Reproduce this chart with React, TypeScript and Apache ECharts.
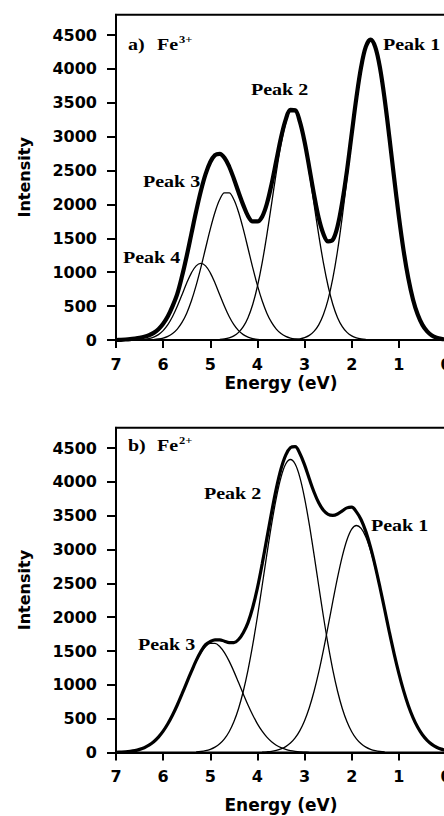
import React, { useEffect, useRef } from "react";
import * as echarts from "echarts";

// Energy grid step (eV) shared by every spectrum below; each list starts at its own energy.
const ENERGY_STEP = 0.1;

const energyTicks = [0, 1, 2, 3, 4, 5, 6, 7];
const intensityTicks = [0, 500, 1000, 1500, 2000, 2500, 3000, 3500, 4000, 4500];

// (a) Fe3+ : measured envelope and four fitted components
const envelopeAStart = 0.0;
const envelopeA = [
  8, 17, 35, 68, 127, 223, 375, 599, 912, 1321,
  1821, 2390, 2984, 3547, 4014, 4322, 4433, 4329, 4029, 3578,
  3044, 2502, 2040, 1680, 1480, 1455, 1565, 1800, 2150, 2545,
  2925, 3222, 3391, 3397, 3252, 2985, 2645, 2300, 2010, 1820,
  1750, 1750, 1830, 1990, 2180, 2380, 2560, 2690, 2747, 2729,
  2627, 2448, 2199, 1899, 1570, 1240, 940, 680, 500, 350,
  240, 160, 105, 70, 48, 33, 22, 13, 7, 3,
  0,
];
const peak1AStart = 0.0;
const peak1A = [
  8, 17, 35, 68, 127, 223, 375, 599, 912, 1321, 1821, 2390, 2984, 3547, 4014, 4322,
  4430, 4322, 4014, 3547, 2984, 2390, 1821, 1321, 912, 599, 375, 223, 127, 68, 35, 17, 8,
];
const peak2AStart = 1.6;
const peak2A = [
  3, 7, 15, 31, 60, 112, 197, 330, 524, 793, 1138, 1552, 2010, 2471, 2885, 3198, 3368,
  3368, 3198, 2885, 2471, 2010, 1552, 1138, 793, 524, 330, 197, 112, 60, 31, 15, 7, 3,
];
const peak3AStart = 3.0;
const peak3A = [
  3, 7, 15, 29, 54, 96, 161, 259, 396, 578, 805, 1069, 1354, 1636, 1885, 2072, 2172,
  2172, 2072, 1885, 1636, 1354, 1069, 805, 578, 396, 259, 161, 96, 54, 29, 15, 7, 3,
];
const peak4AStart = 3.8;
const peak4A = [
  2, 4, 10, 21, 42, 79, 138, 226, 346, 497, 668, 841, 991, 1094,
  1130, 1094, 991, 841, 668, 497, 346, 226, 138, 79, 42, 21, 10, 4, 2,
];

// (b) Fe2+ : measured envelope and three fitted components
const envelopeBStart = 0.0;
const envelopeB = [
  31, 50, 78, 120, 180, 262, 372, 516, 695, 914,
  1170, 1459, 1774, 2109, 2439, 2752, 3031, 3264, 3440, 3556,
  3625, 3615, 3570, 3525, 3505, 3520, 3580, 3690, 3850, 4045,
  4250, 4420, 4520, 4505, 4396, 4191, 3900, 3546, 3164, 2784,
  2434, 2143, 1920, 1770, 1670, 1625, 1625, 1645, 1665, 1665,
  1640, 1594, 1491, 1358, 1199, 1033, 865, 702, 554, 424,
  315, 227, 159, 108, 71, 46, 28, 17, 10, 6,
  3,
];
const peak1BStart = 0.0;
const peak1B = [
  31, 50, 78, 120, 180, 262, 372, 516, 695, 914, 1170, 1459, 1774, 2101, 2424, 2725, 2984, 3185, 3312,
  3355, 3301, 3144, 2899, 2588, 2236, 1870, 1514, 1187, 901, 662, 471, 324, 216, 139, 87, 53, 31, 17, 10, 5,
];
const peak2BStart = 1.3;
const peak2B = [
  8, 15, 27, 47, 79, 128, 201, 307, 454, 651, 905, 1218, 1589, 2010, 2464, 2927, 3370, 3761, 4067, 4263,
  4330, 4263, 4067, 3761, 3370, 2927, 2464, 2010, 1589, 1218, 905, 651, 454, 307, 201, 128, 79, 47, 27, 15, 8,
];
const peak3BStart = 2.9;
const peak3B = [
  3, 6, 10, 17, 28, 46, 71, 108, 159, 227, 315, 424, 554, 702, 865, 1033, 1199, 1350, 1476, 1567, 1614,
  1614, 1567, 1476, 1350, 1199, 1033, 865, 702, 554, 424, 315, 227, 159, 108, 71, 46, 28, 17, 10, 6, 3,
];

const toPoints = (start: number, values: number[]) =>
  values.map((v, i) => [Number((start + i * ENERGY_STEP).toFixed(2)), v]);

const SANS = "DejaVu Sans";
const SERIF = "Liberation Serif";

const GRID_LEFT = 116;
const GRID_WIDTH = 330;

function label(text: string, x: number, y: number, size = 16) {
  return {
    type: "text",
    x,
    y,
    scaleX: 1.25,
    silent: true,
    style: {
      text,
      fill: "#000",
      font: `bold ${size}px "${SERIF}"`,
      align: "left",
      verticalAlign: "middle",
    },
  };
}

export default function App() {
  const ref = useRef<HTMLDivElement>(null);

  useEffect(() => {
    if (!ref.current) return;
    const chart = echarts.init(ref.current, undefined, { renderer: "svg" });

    const axisFont = { fontFamily: SANS, fontWeight: "bold", color: "#000" };

    const xAxis = (gridIndex: number, nameGap: number) => ({
      type: "value",
      gridIndex,
      min: 0,
      max: 7,
      interval: 1,
      inverse: true,
      name: "Energy (eV)",
      nameLocation: "middle",
      nameGap,
      nameTextStyle: { ...axisFont, fontSize: 17 },
      axisLine: { show: true, onZero: false, lineStyle: { color: "#000", width: 2 } },
      axisTick: { show: true, inside: false, length: 8, lineStyle: { color: "#000", width: 2 } },
      axisLabel: { ...axisFont, fontSize: 16, margin: 16, customValues: energyTicks },
      splitLine: { show: false },
    });

    // The energy axis runs from 7 down to 0, so the intensity axis is kept on the left
    // edge rather than crossing at energy 0.
    const yAxis = (gridIndex: number) => ({
      type: "value",
      gridIndex,
      position: "left",
      min: 0,
      max: 4800,
      interval: 500,
      name: "Intensity",
      nameLocation: "middle",
      nameRotate: 90,
      nameGap: 84,
      nameTextStyle: { ...axisFont, fontSize: 16 },
      axisLine: { show: true, onZero: false, lineStyle: { color: "#000", width: 2 } },
      axisTick: {
        show: true,
        inside: false,
        length: 9,
        lineStyle: { color: "#000", width: 2 },
        customValues: intensityTicks,
      },
      axisLabel: {
        ...axisFont,
        fontSize: 16,
        margin: 19,
        customValues: intensityTicks,
        formatter: (v: number) => (v > 4500 ? "" : String(v)),
      },
      splitLine: { show: false },
    });

    const line = (panel: number, data: number[][], width: number, z: number) => ({
      type: "line",
      xAxisIndex: panel,
      yAxisIndex: panel,
      data,
      symbol: "none",
      showSymbol: false,
      smooth: 0.35,
      z,
      lineStyle: { color: "#000", width },
    });

    chart.setOption({
      animation: false,
      backgroundColor: "#fff",
      grid: [
        { left: GRID_LEFT, top: 14.7, width: GRID_WIDTH, height: 325.3, show: true, borderColor: "#000", borderWidth: 2 },
        { left: GRID_LEFT, top: 427.7, width: GRID_WIDTH, height: 324.8, show: true, borderColor: "#000", borderWidth: 2 },
      ],
      xAxis: [xAxis(0, 34), xAxis(1, 44)],
      yAxis: [yAxis(0), yAxis(1)],
      series: [
        line(0, toPoints(peak1AStart, peak1A), 1.3, 2),
        line(0, toPoints(peak2AStart, peak2A), 1.3, 2),
        line(0, toPoints(peak3AStart, peak3A), 1.3, 2),
        line(0, toPoints(peak4AStart, peak4A), 1.3, 2),
        line(0, toPoints(envelopeAStart, envelopeA), 4.2, 3),
        line(1, toPoints(peak1BStart, peak1B), 1.3, 2),
        line(1, toPoints(peak2BStart, peak2B), 1.3, 2),
        line(1, toPoints(peak3BStart, peak3B), 1.3, 2),
        line(1, toPoints(envelopeBStart, envelopeB), 3.2, 3),
      ],
      graphic: [
        label("a)", 128, 44.5),
        label("Fe", 157, 44.5),
        label("3+", 179, 39.5, 10),
        label("Peak 1", 383, 44.7),
        label("Peak 2", 251, 89.5),
        label("Peak 3", 143, 182),
        label("Peak 4", 123, 258),
        label("b)", 128, 445.5),
        label("Fe", 157, 445.5),
        label("2+", 179, 440.5, 10),
        label("Peak 2", 204, 494),
        label("Peak 1", 371, 526),
        label("Peak 3", 138, 645),
      ],
    });

    return () => chart.dispose();
  }, []);

  return (
    <div
      style={{
        position: "fixed",
        left: 0,
        top: 0,
        width: 444,
        height: 816,
        overflow: "hidden",
        background: "#fff",
      }}
    >
      <div ref={ref} style={{ width: 500, height: 816 }} />
    </div>
  );
}
